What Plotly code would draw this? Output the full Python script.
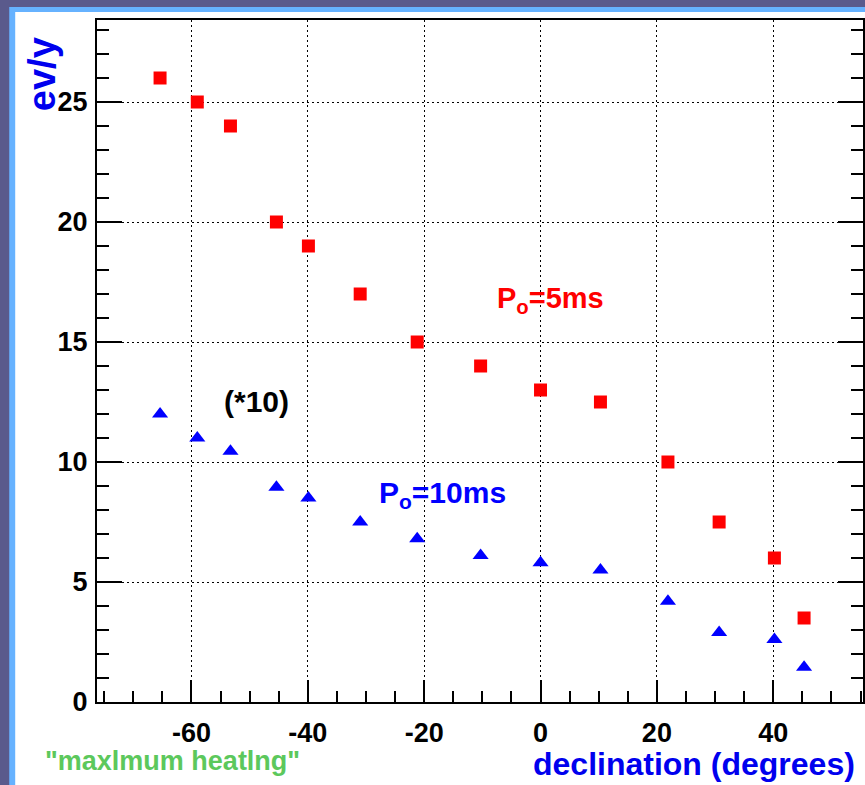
import plotly.graph_objects as go

# Event rate versus source declination for two pulsar periods
declination = [-65.4, -59.0, -53.3, -45.4, -39.9, -31.0, -21.2, -10.3, 0.0, 10.3, 21.9, 30.7, 40.2, 45.3]
rate_p5ms = [26, 25, 24, 20, 19, 17, 15, 14, 13, 12.5, 10, 7.5, 6, 3.5]
rate_p10ms_x10 = [12.0, 11.0, 10.45, 8.95, 8.5, 7.5, 6.8, 6.1, 5.8, 5.5, 4.2, 2.9, 2.6, 1.45]

x_ticks = [-60, -40, -20, 0, 20, 40]
x_ticktext = ["-60", "-40", "-20", "0", "20", "40"]
y_ticks = [0, 5, 10, 15, 20, 25]
y_ticktext = ["0", "5", "10", "15", "20", "25"]

W, H = 865, 785
ML, MR, MT, MB = 97, 0, 20, 83
PW, PH = W - ML - MR, H - MT - MB


def px(x):
    return (x - ML) / PW


def py(y):
    return (H - MB - y) / PH


sans = "Liberation Sans, Arial, Helvetica"

fig = go.Figure()
fig.add_trace(go.Scatter(
    x=declination, y=rate_p5ms, mode="markers", name="P0=5ms",
    marker=dict(symbol="square", size=13, color="#ff0000", line=dict(width=0)),
))
fig.add_trace(go.Scatter(
    x=declination, y=rate_p10ms_x10, mode="markers", name="P0=10ms (*10)",
    marker=dict(symbol="triangle-up", size=14, color="#0000ff", line=dict(width=0)),
))

axis_common = dict(
    showline=True, linecolor="black", linewidth=2,
    ticks="inside", tickcolor="black", tickwidth=2,
    showgrid=True, gridcolor="black", gridwidth=1, griddash="2px,3px",
    zeroline=False,
    tickfont=dict(family=sans, size=27, color="black", weight="bold"),
)

fig.update_xaxes(
    **axis_common,
    range=[-76.24, 55.43], tickvals=x_ticks, ticktext=x_ticktext,
    ticklen=22, mirror=True,
    minor=dict(ticks="inside", dtick=5, tick0=0, ticklen=11, tickwidth=2,
               tickcolor="black", showgrid=False),
    ticklabelstandoff=6,
)
fig.update_yaxes(
    **axis_common,
    range=[0, PH / 24.0], tickvals=y_ticks, ticktext=y_ticktext,
    ticklen=25, mirror="ticks",
    minor=dict(ticks="inside", dtick=1, tick0=0, ticklen=12, tickwidth=2,
               tickcolor="black", showgrid=False),
    ticklabelstandoff=2,
)

annotations = [
    dict(text="ev/y", x=px(42), y=py(74), textangle=-90,
         font=dict(family=sans, size=38, color="#0000ee", weight="bold")),
    dict(text="declination (degrees)", x=px(859), y=py(764), xanchor="right",
         font=dict(family=sans, size=32, color="#0000ee", weight="bold")),
    dict(text='"maxlmum heatlng"', x=px(43), y=py(761), xanchor="left",
         font=dict(family=sans, size=27, color="#5cc85c", weight="bold")),
    dict(text="(*10)", x=px(257), y=py(402),
         font=dict(family=sans, size=30, color="black", weight="bold")),
    dict(text="P<sub>o</sub>=5ms", x=px(552), y=py(300),
         font=dict(family=sans, size=29, color="#ff0000", weight="bold")),
    dict(text="P<sub>o</sub>=10ms", x=px(443), y=py(494),
         font=dict(family=sans, size=30, color="#0000ff", weight="bold")),
]
for a in annotations:
    a.update(xref="paper", yref="paper", showarrow=False, yanchor="middle")
    a.setdefault("xanchor", "center")

# slide frame: dark border, light-blue rim, white panel
shapes = [
    dict(type="rect", xref="paper", yref="paper", layer="below",
         x0=px(9), x1=px(W + 5), y0=py(H + 5), y1=py(7),
         fillcolor="#66b2ff", line=dict(width=0)),
    dict(type="rect", xref="paper", yref="paper", layer="below",
         x0=px(15), x1=px(W + 5), y0=py(H + 5), y1=py(12),
         fillcolor="white", line=dict(width=0)),
]

fig.update_layout(
    width=W, height=H,
    margin=dict(l=ML, r=MR, t=MT, b=MB, pad=0),
    paper_bgcolor="#5a5a8c", plot_bgcolor="white",
    showlegend=False,
    annotations=annotations, shapes=shapes,
)

fig.write_html("out.html")
